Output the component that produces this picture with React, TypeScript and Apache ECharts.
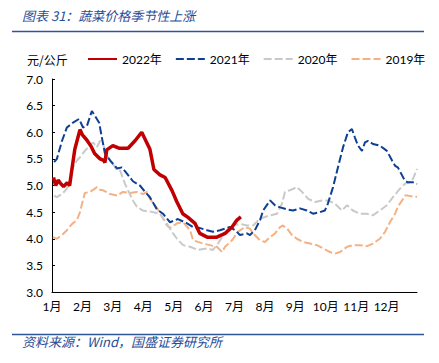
import React, { useEffect, useRef } from "react";
import * as echarts from "echarts";

const monthLabels = ["1月", "2月", "3月", "4月", "5月", "6月", "7月", "8月", "9月", "10月", "11月", "12月"];
const yTicks = [3.0, 3.5, 4.0, 4.5, 5.0, 5.5, 6.0, 6.5, 7.0];
const unitLabel = "元/公斤";
const titleText = "图表 31：蔬菜价格季节性上涨";
const sourceText = "资料来源：Wind，国盛证券研究所";
const seriesNames = ["2022年", "2021年", "2020年", "2019年"];

// [month position (0 = 1月1日), price]
const s2022: number[][] = [
  [0.05, 5.15], [0.12, 5.0], [0.2, 5.1], [0.28, 5.04], [0.38, 4.98], [0.5, 5.05], [0.58, 5.0],
  [0.64, 5.25], [0.75, 5.68], [0.92, 6.05], [1.0, 5.95], [1.15, 5.85], [1.3, 5.72], [1.4, 5.6],
  [1.58, 5.5], [1.7, 5.47], [1.74, 5.43], [1.8, 5.67], [2.0, 5.75], [2.2, 5.7], [2.5, 5.7],
  [2.73, 5.84], [2.95, 6.0], [3.12, 5.8], [3.22, 5.68], [3.35, 5.3], [3.55, 5.2], [3.72, 5.15],
  [3.95, 4.9], [4.1, 4.7], [4.3, 4.47], [4.47, 4.4], [4.7, 4.29], [4.86, 4.1], [5.1, 4.03],
  [5.42, 4.03], [5.69, 4.1], [5.92, 4.22], [6.08, 4.35], [6.21, 4.41],
];
const s2021: number[][] = [
  [0.07, 5.44], [0.16, 5.5], [0.33, 5.84], [0.49, 6.09], [0.69, 6.18], [0.89, 6.25], [1.02, 6.09],
  [1.15, 6.12], [1.31, 6.4], [1.41, 6.31], [1.55, 6.18], [1.64, 5.9], [1.74, 5.6], [1.91, 5.47],
  [2.14, 5.32], [2.3, 5.34], [2.47, 5.22], [2.66, 5.08], [2.89, 5.0], [3.06, 4.88], [3.22, 4.78],
  [3.45, 4.55], [3.65, 4.47], [3.88, 4.31], [4.14, 4.37], [4.44, 4.29], [4.64, 4.22], [4.87, 4.2],
  [5.1, 4.16], [5.29, 4.13], [5.52, 4.16], [5.85, 4.22], [6.02, 4.16], [6.18, 4.07], [6.41, 4.1],
  [6.51, 4.07], [6.67, 4.16], [6.84, 4.35], [6.94, 4.53], [7.17, 4.72], [7.33, 4.63], [7.5, 4.59],
  [7.73, 4.55], [7.92, 4.53], [8.15, 4.57], [8.38, 4.53], [8.58, 4.47], [8.81, 4.5], [8.97, 4.53],
  [9.07, 4.66], [9.24, 4.97], [9.4, 5.34], [9.57, 5.72], [9.73, 6.0], [9.86, 6.06], [9.96, 5.9],
  [10.06, 5.75], [10.19, 5.65], [10.29, 5.81], [10.39, 5.84], [10.55, 5.78], [10.78, 5.75],
  [11.01, 5.65], [11.18, 5.47], [11.28, 5.37], [11.37, 5.34], [11.51, 5.19], [11.6, 5.09],
  [11.7, 5.06], [11.87, 5.06], [12.0, 5.03],
];
const s2020: number[][] = [
  [0.07, 4.81], [0.16, 4.78], [0.33, 4.84], [0.49, 4.94], [0.59, 5.1], [0.69, 5.34], [0.82, 5.47],
  [0.92, 5.53], [1.08, 5.65], [1.25, 5.75], [1.35, 5.81], [1.48, 5.72], [1.58, 5.84], [1.68, 5.78],
  [1.81, 5.56], [2.0, 5.41], [2.14, 5.28], [2.24, 5.28], [2.4, 5.03], [2.66, 4.72], [2.79, 4.6],
  [2.99, 4.53], [3.32, 4.5], [3.55, 4.47], [3.78, 4.28], [3.98, 4.1], [4.11, 4.0], [4.31, 3.88],
  [4.54, 3.85], [4.8, 3.79], [5.1, 3.82], [5.29, 3.79], [5.46, 3.91], [5.59, 4.03], [5.75, 4.16],
  [5.95, 4.25], [6.18, 4.28], [6.41, 4.25], [6.61, 4.25], [6.84, 4.38], [7.17, 4.44], [7.4, 4.47],
  [7.56, 4.66], [7.66, 4.88], [7.82, 4.91], [8.05, 4.97], [8.22, 4.88], [8.42, 4.75], [8.65, 4.69],
  [8.88, 4.72], [9.07, 4.72], [9.3, 4.66], [9.53, 4.53], [9.7, 4.63], [9.89, 4.53], [10.12, 4.47],
  [10.36, 4.47], [10.55, 4.44], [10.78, 4.53], [11.01, 4.63], [11.21, 4.78], [11.44, 4.94],
  [11.6, 5.03], [11.77, 5.06], [11.87, 5.13], [12.0, 5.31],
];
const s2019: number[][] = [
  [0.03, 4.03], [0.16, 4.0], [0.33, 4.07], [0.49, 4.16], [0.66, 4.28], [0.82, 4.35], [0.92, 4.5],
  [0.99, 4.66], [1.08, 4.86], [1.25, 4.88], [1.48, 4.97], [1.58, 4.92], [1.68, 4.91], [1.91, 4.84],
  [2.14, 4.81], [2.33, 4.88], [2.56, 4.86], [2.79, 4.88], [2.99, 4.84], [3.12, 4.88], [3.22, 4.75],
  [3.45, 4.58], [3.65, 4.38], [3.78, 4.25], [3.88, 4.2], [4.11, 4.29], [4.31, 4.31], [4.54, 4.16],
  [4.64, 3.97], [4.96, 3.91], [5.19, 3.88], [5.42, 3.85], [5.59, 3.75], [5.69, 3.85], [5.92, 3.97],
  [6.11, 4.13], [6.34, 4.22], [6.51, 4.19], [6.61, 4.1], [6.84, 3.97], [7.0, 3.94], [7.17, 4.03],
  [7.33, 4.1], [7.5, 4.22], [7.59, 4.25], [7.73, 4.19], [7.89, 4.07], [8.05, 4.0], [8.25, 3.94],
  [8.48, 3.91], [8.71, 3.88], [8.91, 3.82], [9.14, 3.75], [9.3, 3.72], [9.47, 3.75], [9.7, 3.85],
  [9.89, 3.88], [10.12, 3.88], [10.36, 3.86], [10.55, 3.91], [10.78, 4.0], [10.95, 4.13],
  [11.11, 4.31], [11.28, 4.47], [11.37, 4.6], [11.51, 4.72], [11.6, 4.81], [11.7, 4.81],
  [11.87, 4.79], [12.0, 4.79],
];

const FONT = 'Lato, "Noto Sans CJK SC", sans-serif';
const CJK_FONT = '"Noto Sans CJK SC", sans-serif';

export default function App() {
  const ref = useRef<HTMLDivElement>(null);
  useEffect(() => {
    if (!ref.current) return;
    const chart = echarts.init(ref.current, undefined, { renderer: "svg" });
    const mk = (name: string, data: number[][], color: string, width: number, type: any, z: number) => ({
      name,
      type: "line",
      data,
      showSymbol: false,
      symbol: "none",
      z,
      lineStyle: { color, width, type },
      itemStyle: { color },
    });
    chart.setOption({
      animation: false,
      backgroundColor: "#ffffff",
      grid: { left: 52, top: 79, right: 22, bottom: 71, containLabel: false },
      legend: {
        left: 82,
        top: 48,
        itemWidth: 29,
        itemHeight: 12,
        itemGap: 13,
        itemStyle: { opacity: 0 },
        textStyle: { fontSize: 12, fontFamily: FONT, color: "#000" },
        data: seriesNames,
      },
      xAxis: {
        type: "value",
        min: 0,
        max: 12,
        interval: 1,
        axisLine: { show: true, lineStyle: { color: "#000", width: 1 } },
        axisTick: { show: false },
        splitLine: { show: false },
        axisLabel: {
          fontSize: 12,
          fontFamily: FONT,
          color: "#000",
          margin: 8,
          formatter: (v: number) => (v < 12 ? monthLabels[v] : ""),
        },
      },
      yAxis: {
        type: "value",
        min: yTicks[0],
        max: yTicks[yTicks.length - 1],
        interval: 0.5,
        axisLine: { show: true, lineStyle: { color: "#000", width: 1 } },
        axisTick: { show: true, inside: true, length: 3, lineStyle: { color: "#000" } },
        splitLine: { show: false },
        axisLabel: {
          fontSize: 12,
          fontFamily: FONT,
          color: "#000",
          margin: 9,
          formatter: (v: number) => v.toFixed(1),
        },
      },
      graphic: [
        {
          type: "text",
          left: 22,
          top: 9,
          style: { text: titleText, fontSize: 13, fontStyle: "italic", fontFamily: CJK_FONT, fill: "#1F4E9A" },
        },
        {
          type: "line",
          shape: { x1: 12, y1: 31.5, x2: 424, y2: 31.5 },
          style: { stroke: "#2F5597", lineWidth: 1.5 },
        },
        {
          type: "text",
          left: 27,
          top: 53,
          style: { text: unitLabel, fontSize: 12, fontFamily: CJK_FONT, fill: "#000" },
        },
        {
          type: "line",
          shape: { x1: 12, y1: 334.5, x2: 424, y2: 334.5 },
          style: { stroke: "#2F5597", lineWidth: 1.5 },
        },
        {
          type: "text",
          left: 22,
          top: 335,
          style: { text: sourceText, fontSize: 13, fontStyle: "italic", fontFamily: CJK_FONT, fill: "#1F4E9A" },
        },
      ],
      series: [
        mk(seriesNames[3], s2019, "#F4B183", 2, [8, 3], 1),
        mk(seriesNames[2], s2020, "#C9C9C9", 2, [8, 3], 2),
        mk(seriesNames[1], s2021, "#0D3F93", 2, [8, 3], 3),
        mk(seriesNames[0], s2022, "#C00000", 3.5, "solid", 4),
      ],
    });
    return () => chart.dispose();
  }, []);
  return <div ref={ref} style={{ position: "fixed", left: 0, top: 0, width: 439, height: 363 }} />;
}
